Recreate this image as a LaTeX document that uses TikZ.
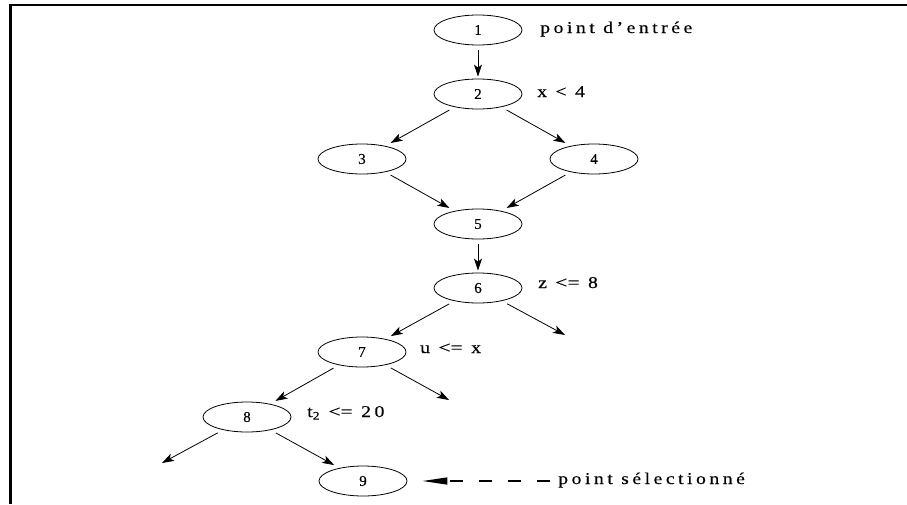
\documentclass[tikz,border=0pt]{standalone}
\usepackage{fontspec}
\setmainfont{Liberation Serif}[FakeBold=0.2]
\newfontfamily\lblfont{Liberation Serif}[LetterSpace=21,FakeStretch=1.2,FakeBold=0.3]
\newfontfamily\plainfont{Liberation Serif}[FakeStretch=1.3,FakeBold=0.3]
\newcommand{\myle}{{\plainfont<=}}
\usetikzlibrary{arrows.meta,shapes.geometric}
\begin{document}
\begin{tikzpicture}[x=1pt,y=-1pt,
  state/.style={draw, ellipse, minimum width=88pt, minimum height=30pt, inner sep=0pt, line width=0.8pt, font=\fontsize{15}{18}\selectfont},
  lbl/.style={anchor=base west, inner sep=0pt, font=\fontsize{16.5}{19}\selectfont\lblfont},
  edge/.style={-{Stealth[length=12pt,width=8pt,inset=3pt]}, line width=0.8pt, shorten <=6pt, shorten >=6pt},
  vedge/.style={edge, shorten <=5pt, shorten >=2pt}]
\useasboundingbox (0,0) rectangle (907,504);
\draw[line width=2pt] (8.5,5) -- (907,5);
\draw[line width=3pt] (10,4) -- (10,504);
% states
\node[state] (n1) at (478,30) {1};
\node[state] (n2) at (478,94) {2};
\node[state] (n3) at (362,159) {3};
\node[state] (n4) at (594,159) {4};
\node[state] (n5) at (478,224) {5};
\node[state] (n6) at (478,288) {6};
\node[state] (n7) at (362,352) {7};
\node[state] (n8) at (247,417) {8};
\node[state] (n9) at (363,481) {9};
% labels
\node[lbl] (l1) at (540,33) {point d’entrée};
\node[lbl] (l2) at (537,97) {x < 4};
\node[lbl] (l6) at (538,288) {z \myle\ 8};
\node[lbl] (l7) at (420,353) {u \myle\ x};
\node[lbl] (l8) at (307,417) {t\textsubscript{2} \myle\ 20};
\node[lbl] (l9) at (558,484) {point sélectionné};
% free ends
\coordinate (f6) at (565,335);
\coordinate (f7) at (449,400);
\coordinate (f8) at (162,463);
\coordinate (selstart) at (550,481);
% edges
\draw[vedge] (n1) -- (n2);
\draw[edge] (n2) -- (n3);
\draw[edge] (n2) -- (n4);
\draw[edge] (n3) -- (n5);
\draw[edge] (n4) -- (n5);
\draw[vedge] (n5) -- (n6);
\draw[edge] (n6) -- (n7);
\draw[edge, shorten >=0pt] (n6) -- (f6);
\draw[edge] (n7) -- (n8);
\draw[edge, shorten >=0pt] (n7) -- (f7);
\draw[edge, shorten >=0pt] (n8) -- (f8);
\draw[edge] (n8) -- (n9);
\draw[-{Triangle[length=25pt,width=7pt]}, line width=1.2pt, dash pattern=on 13pt off 16pt, shorten >=15pt] (selstart) -- (n9.east);
\end{tikzpicture}
\end{document}
